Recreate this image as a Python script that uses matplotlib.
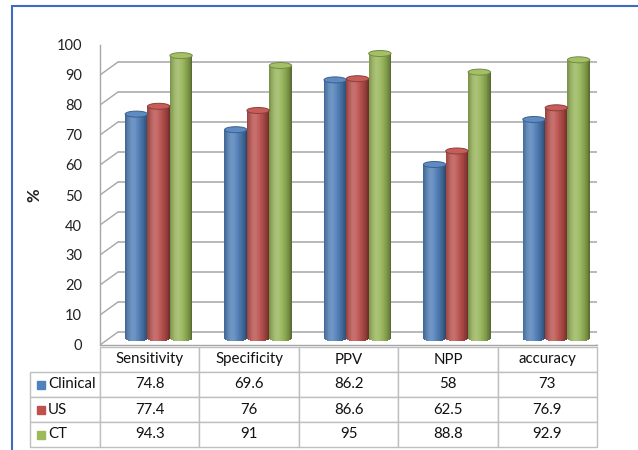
import numpy as np
import matplotlib
matplotlib.use("Agg")
import matplotlib.pyplot as plt
import matplotlib.colors as mcolors
from matplotlib.patches import Ellipse, Rectangle
from matplotlib.lines import Line2D
from matplotlib.table import Table
from matplotlib.transforms import offset_copy, IdentityTransform

plt.rcParams["font.family"] = ["Lato", "DejaVu Sans"]

categories = ["Sensitivity", "Specificity", "PPV", "NPP", "accuracy"]
series = ["Clinical", "US", "CT"]
clinical = [74.8, 69.6, 86.2, 58, 73]
us = [77.4, 76, 86.6, 62.5, 76.9]
ct = [94.3, 91, 95, 88.8, 92.9]
yticks = list(range(0, 101, 10))

colors = ["#4F81BD", "#C0504D", "#9BBB59"]
grid = "#A6A6A6"
edge = "#BFBFBF"

W, H = 638, 450
fig = plt.figure(figsize=(W / 100, H / 100), dpi=100)

# front face of the 3d box, pixels
fx0, fx1, fy_top, fy_bot = 100, 597, 45, 345
ax = fig.add_axes([fx0 / W, 1 - fy_bot / H, (fx1 - fx0) / W, (fy_bot - fy_top) / H])
ax.set_xlim(-0.5, len(categories) - 0.5)
ax.set_ylim(0, 100)
ax.set_autoscale_on(False)

def px_x(p):
    return (p - fx0) / (fx1 - fx0)

def px_y(p):
    return (fy_bot - p) / (fy_bot - fy_top)

# depth of the box: back wall sits up and to the right
dx, dy = 18, 13
back = offset_copy(ax.transData, fig=fig, x=dx, y=dy, units="dots")
mid = offset_copy(ax.transData, fig=fig, x=dx / 2, y=dy / 2, units="dots")

# back wall gridlines + side wall diagonals
ax.hlines(yticks, -0.5, len(categories) - 0.5, transform=back, color=grid, lw=1.1, zorder=1)
for v in yticks:
    p = ax.transData.transform((-0.5, v))
    ax.add_line(Line2D([p[0], p[0] + dx], [p[1], p[1] + dy], transform=IdentityTransform(),
                       color=grid, lw=1.0, zorder=1))
# floor right edge
p = ax.transData.transform((len(categories) - 0.5, 0))
ax.add_line(Line2D([p[0], p[0] + dx], [p[1], p[1] + dy], transform=IdentityTransform(),
                   color=grid, lw=1.0, zorder=1))

for s in ["top", "right"]:
    ax.spines[s].set_visible(False)
for s in ["left", "bottom"]:
    ax.spines[s].set_color(grid)
    ax.spines[s].set_linewidth(1.0)
ax.set_xticks([])
ax.set_yticks(yticks)
ax.tick_params(axis="y", length=0, pad=13, labelsize=10.5, labelcolor="#222222")
ax.set_ylabel("%", fontsize=12, fontweight="bold", labelpad=10, color="#222222")
ax.patch.set_alpha(0)


def shade(c, u):
    rgb = np.array(mcolors.to_rgb(c))
    t = (u + 1) / 2
    light = np.exp(-((t - 0.33) / 0.25) ** 2)
    dark = 0.45 * t ** 4 + 0.25 * (1 - t) ** 5
    col = rgb * (1 - dark) + (1 - rgb) * 0.2 * light
    return tuple(np.clip(col, 0, 1))


# cylinders
width = 0.225
nstrip = 30
cap = 2.0
for k, (vals, c) in enumerate(zip([clinical, us, ct], colors)):
    for i, v in enumerate(vals):
        xc = i + (k - 1) * width
        edges = np.linspace(xc - width / 2, xc + width / 2, nstrip + 1)
        centers = (edges[:-1] + edges[1:]) / 2
        u = (centers - xc) / (width / 2)
        bottoms = -cap / 2 * np.sqrt(1 - u ** 2)
        ax.bar(centers, v - bottoms, bottom=bottoms, width=(edges[1] - edges[0]) * 1.15,
               color=[shade(c, uu) for uu in u], linewidth=0, transform=mid, zorder=3)
        top = np.array(mcolors.to_rgb(c))
        ax.add_patch(Ellipse((xc, v), width, cap, transform=mid, zorder=4,
                             facecolor=tuple(top * 0.92 + 0.08),
                             edgecolor=tuple(top * 0.75), lw=0.7))

# data table under the chart (sizes in axes fractions)
row_top = 347
row_h = 25 / (fy_bot - fy_top)
lab_w = 70 / (fx1 - fx0)
col_w = 1 / len(categories)
tbl = Table(ax, bbox=[0, px_y(row_top) - 4 * row_h, 1, 4 * row_h])
for j, name in enumerate(categories):
    tbl.add_cell(0, j, width=col_w, height=row_h, text=name, loc="center")
for i, (name, vals) in enumerate(zip(series, [clinical, us, ct]), start=1):
    cell = tbl.add_cell(i, -1, width=lab_w, height=row_h, text=name, loc="left")
    cell.PAD = 18 / 70
    for j, v in enumerate(vals):
        tbl.add_cell(i, j, width=col_w, height=row_h, text=f"{v:g}", loc="center")
tbl.auto_set_font_size(False)
tbl.set_fontsize(10.8)
for cell in tbl.get_celld().values():
    cell.set_edgecolor(edge)
    cell.set_linewidth(1.0)
    cell.get_text().set_color("#111111")
ax.add_table(tbl)

# legend keys in the row-label cells
for i, c in enumerate(colors):
    yc = px_y(row_top) - row_h * (i + 1.5)
    ax.plot([px_x(41)], [yc], marker="s", ms=5.8, color=c, transform=ax.transAxes,
            clip_on=False, zorder=5)

# chart frame
fig.add_artist(Rectangle((12 / W, -0.05), 1.0, 1.05 - 6 / H, transform=fig.transFigure,
                         fill=False, edgecolor="#3D6BC0", lw=1.5))

fig.savefig("out.png", dpi=100)
